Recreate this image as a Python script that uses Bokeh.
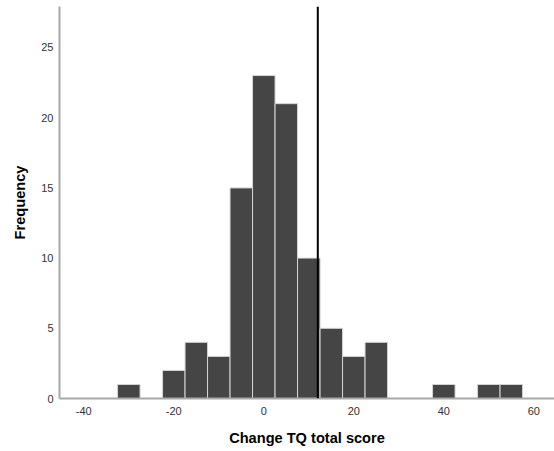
from bokeh.plotting import figure
from bokeh.models import FixedTicker, Span, ColumnDataSource
from bokeh.embed import file_html
from bokeh.resources import INLINE

# Histogram data (bin centers, width 5)
bin_centers = [-30, -25, -20, -15, -10, -5, 0, 5, 10, 15, 20, 25, 30, 35, 40, 45, 50, 55]
counts      = [1,   0,   2,   4,   3,  15, 23, 21, 10,  5,  3,  4,  0,  0,  1,  0,  1,  1]
bin_width = 5
threshold = 12
x_ticks = [-40, -20, 0, 20, 40, 60]
y_ticks = [0, 5, 10, 15, 20, 25]

xs = [c for c, n in zip(bin_centers, counts) if n > 0]
ns = [n for n in counts if n > 0]
src = ColumnDataSource(dict(x=xs, top=ns))

p = figure(width=554, height=451, output_backend="svg", toolbar_location=None,
           x_range=(-45.4, 64.6), y_range=(0, 27.92),
           min_border_left=59, min_border_right=0, min_border_top=6, min_border_bottom=53)

p.vbar(x="x", top="top", width=bin_width, source=src,
       fill_color="#454545", line_color="#d6d6d6", line_width=1)

p.add_layout(Span(location=threshold, dimension="height", line_color="#000000", line_width=2))

p.xgrid.visible = False
p.ygrid.visible = False
p.outline_line_color = None

for ax in (p.xaxis[0], p.yaxis[0]):
    ax.major_tick_line_color = None
    ax.minor_tick_line_color = None
    ax.major_tick_out = 0
    ax.major_tick_in = 0
    ax.minor_tick_out = 0
    ax.minor_tick_in = 0
    ax.axis_line_color = "#a8a8a8"
    ax.axis_line_width = 2
    ax.major_label_text_font = "Liberation Sans"
    ax.major_label_text_font_size = "11px"
    ax.major_label_text_color = "#333333"
    ax.axis_label_text_font = "Liberation Sans"
    ax.axis_label_text_font_style = "bold"
    ax.axis_label_text_font_size = "14.6px"
    ax.axis_label_text_color = "#000000"

p.xaxis.ticker = FixedTicker(ticks=x_ticks)
p.yaxis.ticker = FixedTicker(ticks=y_ticks)
p.xaxis.major_label_overrides = {t: str(t) for t in x_ticks}
p.xaxis.axis_label = "Change TQ total score"
p.yaxis.axis_label = "Frequency"
p.xaxis.major_label_standoff = 8
p.xaxis.axis_label_standoff = 12
p.yaxis.major_label_standoff = 6
p.yaxis.axis_label_standoff = 10

open("out.html", "w").write(file_html(p, INLINE))
